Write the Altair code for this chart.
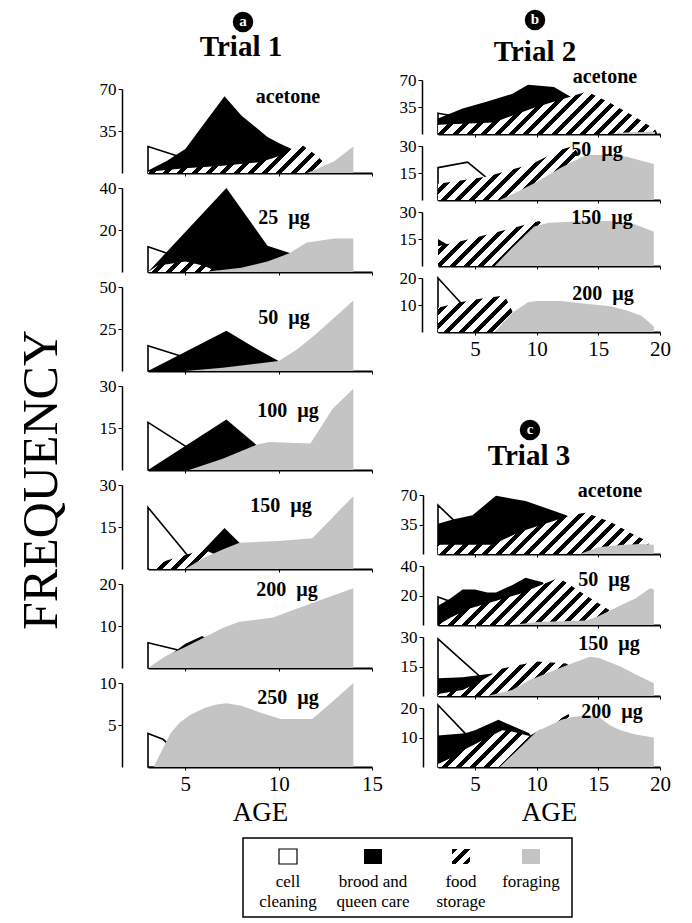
import altair as alt
import pandas as pd

FONT = "Liberation Serif"
STIPPLE = "#c4c4c4"

TASKS = ["cell cleaning", "brood and queen care", "food storage", "foraging"]
LEGEND_LABELS = ["cell\ncleaning", "brood and\nqueen care", "food\nstorage", "foraging"]

# ---------------- Trial 1 (age axis 3-15) ----------------
T1_ACE_CELL = [(3, 22), (5, 12), (7, 2), (7.5, 0)]
T1_ACE_BROOD = [(3, 2), (4, 10), (5, 20), (6, 41), (7.1, 64), (8, 48), (9.4, 30), (10, 25), (10.7, 20), (11.5, 8), (12, 0)]
T1_ACE_FOOD = [(3, 1), (5, 4), (7, 6), (9, 9), (10, 14), (10.7, 20), (11.3, 23), (12, 15), (12.7, 5), (13, 0)]
T1_ACE_FORAGE = [(11.5, 0), (12, 3), (13, 10), (14, 22)]

T1_25_CELL = [(3, 12), (5, 6), (7, 0)]
T1_25_BROOD = [(3, 0), (7.2, 40), (9.4, 12.5), (10.6, 9), (11, 4), (11.5, 0)]
T1_25_FOOD = [(3, 0), (3.5, 3), (5, 5), (6, 3), (6.5, 1), (7, 0)]
T1_25_FORAGE = [(6, 0), (8, 2), (9.4, 5), (10.6, 9), (11.5, 14), (13, 16), (14, 16)]

T1_50_CELL = [(3, 15), (5, 8), (7, 1), (7.5, 0)]
T1_50_BROOD = [(3, 0), (7.2, 24), (9, 12), (10, 6), (10.5, 3), (11, 0)]
T1_50_FORAGE = [(5, 0), (7, 2), (10, 6), (11, 13), (12, 22), (13, 32), (14, 42)]

T1_100_CELL = [(3, 17), (5, 8.5), (6.5, 2), (7, 0)]
T1_100_BROOD = [(3, 0), (7.2, 18), (8.8, 9), (9.5, 4), (10, 0)]
T1_100_FORAGE = [(5.2, 0), (7, 4), (8.8, 9), (9.5, 10), (11.7, 9.5), (12.9, 22), (14, 29)]

T1_150_CELL = [(3, 22), (5.1, 5), (5.6, 0)]
T1_150_BROOD = [(5, 0), (6, 7), (7.1, 14.6), (7.9, 9.4), (9, 5), (10, 0)]
T1_150_FOOD = [(3, 0), (4, 3), (5, 5), (6, 7), (7, 4), (8, 0)]
T1_150_FORAGE = [(5, 0), (6, 4), (7, 7), (7.9, 9.4), (10, 10), (11.8, 11), (14, 26)]

T1_200_CELL = [(3, 6), (4.5, 4.4), (6, 2), (7, 0)]
T1_200_BROOD = [(4, 2.5), (5, 5.8), (5.9, 7.6), (6.5, 6), (7, 0)]
T1_200_FORAGE = [(3, 0), (4, 3), (5, 5), (5.9, 7), (7, 9.5), (7.9, 11), (9.7, 12), (11.5, 15), (14, 19)]

T1_250_CELL = [(3, 4), (3.8, 3.3), (5, 1), (5.5, 0)]
T1_250_FORAGE = [(3.3, 0), (4.2, 4), (4.7, 5.3), (5.25, 6.2), (6, 7), (6.6, 7.4), (7.2, 7.6), (8, 7.3),
                 (9, 6.5), (10.1, 5.7), (11.8, 5.7), (13, 8), (14, 10)]

# ---------------- Trial 2 (age axis 2-20) ----------------
T2_ACE_CELL = [(2, 27), (3, 24), (5, 0)]
T2_ACE_BROOD = [(2, 20), (4, 33), (6, 42), (8, 52), (9.3, 64), (11.4, 61), (13, 46), (14, 32), (15, 15), (16, 0)]
T2_ACE_FOOD = [(2, 12), (5, 14), (6.5, 15), (9.8, 34), (14.1, 55), (16, 40), (18, 22), (19.6, 6), (19.8, 0)]
T2_ACE_FORAGE = [(16, 0), (17, 2), (19.6, 3)]

T2_50_CELL = [(2, 18), (4.4, 21), (6, 12), (7, 6), (8, 0)]
T2_50_FOOD = [(2, 9), (4, 11), (6, 13), (8, 17), (9.6, 20), (12, 28), (13, 30), (13.5, 24), (14, 10), (14.5, 0)]
T2_50_FORAGE = [(7, 0), (8, 3), (10, 10), (12, 18), (14, 25), (16, 25), (17.3, 24), (19.5, 20)]

T2_150_BROOD = [(2, 15), (3, 11), (4, 5), (5, 0)]
T2_150_FOOD = [(2, 11), (4, 14), (6, 17.5), (8, 21), (10.2, 25), (11, 20), (12, 0)]
T2_150_FORAGE = [(6.6, 0), (8, 10), (9.8, 22), (11, 24), (14, 25), (16, 25), (18, 23), (19.5, 19)]

T2_200_CELL = [(2, 20), (3.8, 11), (5, 5), (6, 0)]
T2_200_FOOD = [(2, 9), (3.8, 11), (5, 12), (7.4, 13.5), (8, 8), (8.5, 0)]
T2_200_FORAGE = [(6.6, 0), (8, 7), (9.3, 11), (10, 11.5), (12, 11.5), (14, 10.5), (16, 9.5), (17.3, 8), (18.5, 6), (19.5, 2)]

# ---------------- Trial 3 (age axis 2-20) ----------------
T3_ACE_CELL = [(2, 58), (3.2, 41), (4, 30), (5, 15), (6, 0)]
T3_ACE_BROOD = [(2, 36), (3.2, 41), (4.8, 46), (6.7, 69), (9.1, 63), (12.4, 46), (14, 30), (15, 15), (16, 0)]
T3_ACE_FOOD = [(2, 11), (6.4, 11), (8.6, 26), (13, 47), (14, 49), (16, 38), (17, 30), (18, 22), (19, 15), (19.3, 0)]
T3_ACE_FORAGE = [(13.5, 0), (15, 8), (17, 11), (18.5, 12), (19.5, 11)]

T3_50_CELL = [(2, 19), (3, 16), (4, 8), (5, 0)]
T3_50_BROOD = [(2, 13), (3, 18), (4, 24), (5, 24), (6, 22), (6.7, 22), (8, 27), (9.1, 32), (10, 30), (10.5, 29), (11, 20), (12, 0)]
T3_50_FOOD = [(2, 0), (3, 5), (4.5, 11), (8.6, 21), (11.8, 32), (14, 20), (16.3, 8), (16.8, 0)]
T3_50_FORAGE = [(8, 0), (10, 2), (14, 3), (15, 6), (16, 10), (17, 14), (18, 18), (19.2, 25), (19.5, 24)]

T3_150_CELL = [(2, 29), (5.3, 10.5), (6, 7), (7, 3), (7.5, 0)]
T3_150_BROOD = [(2, 9), (4, 9.5), (5.3, 10.5), (6.4, 11.5), (7, 9), (8, 0)]
T3_150_FOOD = [(2, 1), (3, 2), (4, 3), (5, 6), (7.2, 14), (10, 17.5), (12.4, 16.5), (13, 14), (14, 6), (14.5, 0)]
T3_150_FORAGE = [(6, 0), (8, 3), (9.4, 8), (12.4, 15.5), (14.3, 20), (15, 19.5), (16.8, 15), (18, 11), (19.5, 6.5)]

T3_200_CELL = [(2, 21), (4.2, 11.4), (5, 8), (6, 4), (6.5, 0)]
T3_200_BROOD = [(2, 10.7), (4.2, 11.4), (5, 12.5), (6.9, 16), (9.4, 11.4), (10, 7), (11, 0)]
T3_200_FOOD = [(2, 1), (3, 3), (4.2, 6), (7.2, 12.5), (8, 12), (9.4, 10.5), (12.6, 18), (13, 12), (14, 0)]
T3_200_FORAGE = [(7, 0), (8, 4), (9, 8), (10, 12), (11, 14), (12, 16), (13, 17), (14, 17.5), (15, 17), (16, 14),
                 (16.8, 12.5), (18, 11), (19.5, 10)]

# panel: (label, y max, [cell, brood, food, forage])
T1_PANELS = [
    ("acetone", 70, [T1_ACE_CELL, T1_ACE_BROOD, T1_ACE_FOOD, T1_ACE_FORAGE]),
    ("25\u2002\u00b5g", 40, [T1_25_CELL, T1_25_BROOD, T1_25_FOOD, T1_25_FORAGE]),
    ("50\u2002\u00b5g", 50, [T1_50_CELL, T1_50_BROOD, None, T1_50_FORAGE]),
    ("100\u2002\u00b5g", 30, [T1_100_CELL, T1_100_BROOD, None, T1_100_FORAGE]),
    ("150\u2002\u00b5g", 30, [T1_150_CELL, T1_150_BROOD, T1_150_FOOD, T1_150_FORAGE]),
    ("200\u2002\u00b5g", 20, [T1_200_CELL, T1_200_BROOD, None, T1_200_FORAGE]),
    ("250\u2002\u00b5g", 10, [T1_250_CELL, None, None, T1_250_FORAGE]),
]
T2_PANELS = [
    ("acetone", 70, [T2_ACE_CELL, T2_ACE_BROOD, T2_ACE_FOOD, T2_ACE_FORAGE]),
    ("50\u2002\u00b5g", 30, [T2_50_CELL, None, T2_50_FOOD, T2_50_FORAGE]),
    ("150\u2002\u00b5g", 30, [None, T2_150_BROOD, T2_150_FOOD, T2_150_FORAGE]),
    ("200\u2002\u00b5g", 20, [T2_200_CELL, None, T2_200_FOOD, T2_200_FORAGE]),
]
T3_PANELS = [
    ("acetone", 70, [T3_ACE_CELL, T3_ACE_BROOD, T3_ACE_FOOD, T3_ACE_FORAGE]),
    ("50\u2002\u00b5g", 40, [T3_50_CELL, T3_50_BROOD, T3_50_FOOD, T3_50_FORAGE]),
    ("150\u2002\u00b5g", 30, [T3_150_CELL, T3_150_BROOD, T3_150_FOOD, T3_150_FORAGE]),
    ("200\u2002\u00b5g", 20, [T3_200_CELL, T3_200_BROOD, T3_200_FOOD, T3_200_FORAGE]),
]

# ---------------- styling / layout ----------------
T1_LABEL_POS = [(140, 8), (136, 30), (136, 31), (140, 25), (133, 21), (139, 6), (140, 15)]
T2_LABEL_POS = [(167, -3), (159, 4), (164, 6), (165, 16)]
T3_LABEL_POS = [(172, -4), (166, 14), (171, 7), (174, 4)]


def hatch_fill(w, h, period=10.0, frac=0.42):
    """Diagonal '/' stripes built from a sharp-stop linear gradient over the mark's bounding box."""
    w = max(w, 1.0)
    h = max(h, 1.0)
    r = h / w
    a = (1 + r) / (1 + r * r)
    n = max(1.0, (w + h) / (2 ** 0.5) / period)
    stops = []
    i = 0
    while i / n < 1:
        t0 = i / n
        t1 = min((i + frac) / n, 1.0)
        t2 = min((i + 1) / n, 1.0)
        stops += [(t0, "black"), (t1, "black"), (t1, "white"), (t2, "white")]
        i += 1
    return alt.LinearGradient(
        gradient="linear",
        stops=[alt.GradientStop(offset=o, color=c) for o, c in stops],
        x1=0, y1=0, x2=a, y2=a * r,
    )


def make_panel(label, ymax, series, xdom, xticks, width, height, yoff, lpos, labels=False, title=False):
    if labels:
        xaxis = alt.Axis(values=xticks, tickSize=3, labelFontSize=21, labelPadding=3, labelFlush=False,
                         labelOverlap=False, title="AGE" if title else None, titleFontSize=27,
                         titleFontWeight="normal", titlePadding=5, domainWidth=2, format="d")
    else:
        xaxis = alt.Axis(values=xticks, tickSize=3, labels=False, title=None, domainWidth=2)
    yaxis = alt.Axis(values=[ymax // 2, ymax], offset=yoff, tickSize=4, labelFontSize=17, labelPadding=2,
                     title=None, domainWidth=1.5, format="d", labelOverlap=False)
    xenc = alt.X("age:Q", scale=alt.Scale(domain=xdom, nice=False, zero=False), axis=xaxis)
    yenc = alt.Y("freq:Q", scale=alt.Scale(domain=[0, ymax], nice=False), axis=yaxis)
    layers = []
    for task, pts in zip(TASKS, series):
        if not pts:
            continue
        df = pd.DataFrame(pts, columns=["age", "freq"])
        df["task"] = task
        if task == "cell cleaning":
            mark = dict(fill="white", stroke="black", strokeWidth=1.6)
        elif task == "brood and queen care":
            mark = dict(fill="black")
        elif task == "food storage":
            ages = [p[0] for p in pts]
            vals = [p[1] for p in pts]
            bw = (max(ages) - min(ages)) / (xdom[1] - xdom[0]) * width
            bh = max(vals) / ymax * height
            mark = dict(fill=hatch_fill(bw, bh))
        else:
            mark = dict(fill=STIPPLE)
        layers.append(alt.Chart(df).mark_area(**mark).encode(x=xenc, y=yenc))
    lab = alt.Chart(alt.Data(values=[{"t": label}])).mark_text(
        font=FONT, fontSize=20, fontWeight="bold", align="center", baseline="middle", color="black"
    ).encode(text="t:N", x=alt.value(lpos[0]), y=alt.value(lpos[1]))
    layers.append(lab)
    return alt.layer(*layers).properties(width=width, height=height)


def header(letter, title, width, height, cx, cy, tx, ty):
    d = alt.Data(values=[{"l": letter, "t": title}])
    circ = alt.Chart(d).mark_circle(size=420, color="black", opacity=1).encode(
        x=alt.value(cx), y=alt.value(cy))
    let = alt.Chart(d).mark_text(font=FONT, fontSize=15, fontWeight="bold", color="white",
                                 align="center", baseline="middle").encode(
        text="l:N", x=alt.value(cx), y=alt.value(cy - 1))
    tit = alt.Chart(d).mark_text(font=FONT, fontSize=29, fontWeight="bold", color="black",
                                 align="center", baseline="middle").encode(
        text="t:N", x=alt.value(tx), y=alt.value(ty))
    return alt.layer(circ, let, tit).properties(width=width, height=height)


# left column: Trial 1
T1_W, T1_H = 224, 84
left_items = [header("a", "Trial 1", T1_W, 66, 95, 14, 93, 39)]
for i, (lab, ymax, ser) in enumerate(T1_PANELS):
    last = i == len(T1_PANELS) - 1
    left_items.append(make_panel(lab, ymax, ser, [3, 15], [5, 10, 15], T1_W, T1_H, 26,
                                 T1_LABEL_POS[i], labels=last, title=last))
left_col = alt.vconcat(*left_items, spacing=15, bounds="flush")

# right column: Trial 2 and Trial 3
R_W = 222
right_items = [header("b", "Trial 2", R_W, 60, 97, 12, 97, 44)]
for i, (lab, ymax, ser) in enumerate(T2_PANELS):
    last = i == len(T2_PANELS) - 1
    right_items.append(make_panel(lab, ymax, ser, [2, 20], [5, 10, 15, 20], R_W, 54, 16,
                                  T2_LABEL_POS[i], labels=last, title=False))
right_items.append(header("c", "Trial 3", R_W, 139, 92, 86, 91, 112))
for i, (lab, ymax, ser) in enumerate(T3_PANELS):
    last = i == len(T3_PANELS) - 1
    right_items.append(make_panel(lab, ymax, ser, [2, 20], [5, 10, 15, 20], R_W, 59, 15,
                                  T3_LABEL_POS[i], labels=last, title=last))
right_col = alt.vconcat(*right_items, spacing=12, bounds="flush")

# big y label
freq = alt.Chart(alt.Data(values=[{"t": "FREQUENCY"}])).mark_text(
    font=FONT, fontSize=50, angle=270, align="center", baseline="middle", color="black"
).encode(text="t:N", x=alt.value(34), y=alt.value(472)).properties(width=75, height=759)

top = alt.hconcat(freq, left_col, right_col, spacing=16)

# legend box
LEG_X = [280, 365, 453, 523]
leg_layers = [
    alt.Chart(alt.Data(values=[{"k": 1}])).mark_rect(fill="white", fillOpacity=0, stroke="black",
                                                     strokeWidth=1.5).encode(
        x=alt.value(235), x2=alt.value(564), y=alt.value(0), y2=alt.value(79))
]
sym_fill = ["white", "black", hatch_fill(18, 15, period=9), STIPPLE]
for task, lab, cx, f in zip(TASKS, LEGEND_LABELS, LEG_X, sym_fill):
    d = alt.Data(values=[{"task": task, "lab": lab}])
    leg_layers.append(alt.Chart(d).mark_rect(fill=f, stroke="black" if task == "cell cleaning" else None,
                                             strokeWidth=1.2).encode(
        x=alt.value(cx - 9), x2=alt.value(cx + 9), y=alt.value(11), y2=alt.value(26)))
    leg_layers.append(alt.Chart(d).mark_text(font=FONT, fontSize=17, lineBreak="\n", lineHeight=20,
                                             align="center", baseline="top", color="black").encode(
        text="lab:N", x=alt.value(cx), y=alt.value(36)))
legend = alt.layer(*leg_layers).properties(width=570, height=79)

chart = alt.vconcat(top, legend, spacing=12).properties(padding=0).configure_view(
    stroke=None
).configure_axis(
    labelFont=FONT, titleFont=FONT, labelColor="black", titleColor="black",
    domainColor="black", tickColor="black", grid=False
)

chart.save("out.html", embed_options={"renderer": "svg", "actions": False})
